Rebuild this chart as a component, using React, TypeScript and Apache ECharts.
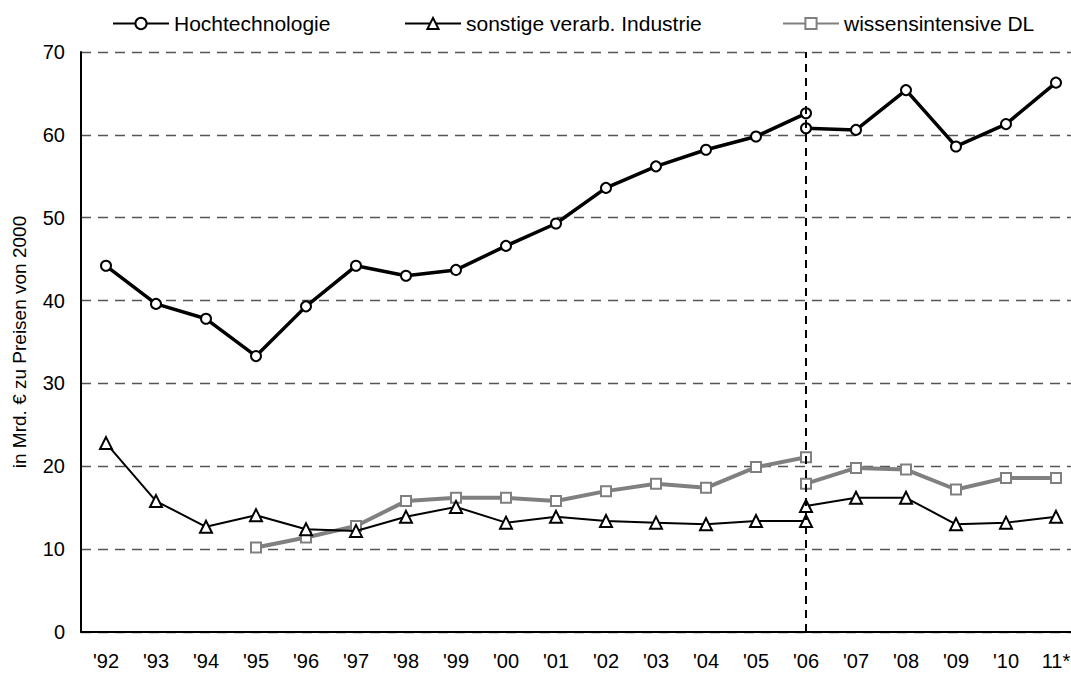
import React, { useEffect, useRef } from "react";
import * as echarts from "echarts";

const categories = ["'92", "'93", "'94", "'95", "'96", "'97", "'98", "'99", "'00", "'01", "'02", "'03", "'04", "'05", "'06", "'07", "'08", "'09", "'10", "11*"];

// values before the 2006 break ('92 .. '06)
const hochPre = [44.2, 39.6, 37.8, 33.3, 39.3, 44.2, 43.0, 43.7, 46.6, 49.3, 53.6, 56.2, 58.2, 59.8, 62.6];
const sonstPre = [22.8, 15.8, 12.7, 14.1, 12.4, 12.2, 13.9, 15.1, 13.2, 13.9, 13.4, 13.2, 13.0, 13.4, 13.4];
const wissPre = [null, null, null, 10.2, 11.4, 12.8, 15.8, 16.2, 16.2, 15.8, 17.0, 17.9, 17.4, 19.9, 21.1];

// values after the break ('06 .. '11*)
const hochPost = [60.8, 60.6, 65.4, 58.6, 61.3, 66.3];
const sonstPost = [15.2, 16.2, 16.2, 13.0, 13.2, 13.9];
const wissPost = [17.9, 19.8, 19.6, 17.2, 18.6, 18.6];

const yTicks = { min: 0, max: 70, interval: 10 };

const FONT = "'Liberation Sans', Arial, sans-serif";

function padPre(v: (number | null)[]) {
  const out: (number | null)[] = v.slice();
  while (out.length < categories.length) out.push(null);
  return out;
}
function padPost(v: number[]) {
  const out: (number | null)[] = [];
  for (let i = 0; i < categories.length - v.length; i++) out.push(null);
  return out.concat(v);
}

export default function App() {
  const ref = useRef<HTMLDivElement>(null);
  useEffect(() => {
    if (!ref.current) return;
    const chart = echarts.init(ref.current, undefined, { renderer: "svg" });

    const hochStyle = {
      name: "Hochtechnologie",
      type: "line",
      symbol: "circle",
      symbolSize: 10,
      lineStyle: { color: "#000", width: 3.5 },
      itemStyle: { color: "#fff", borderColor: "#000", borderWidth: 2 },
      z: 4,
    };
    const sonstStyle = {
      name: "sonstige verarb. Industrie",
      type: "line",
      symbol: "triangle",
      symbolSize: 12,
      lineStyle: { color: "#000", width: 2 },
      itemStyle: { color: "#fff", borderColor: "#000", borderWidth: 2 },
      z: 3,
    };
    const wissStyle = {
      name: "wissensintensive DL",
      type: "line",
      symbol: "rect",
      symbolSize: 10,
      lineStyle: { color: "#808080", width: 4 },
      itemStyle: { color: "#fff", borderColor: "#808080", borderWidth: 2 },
      z: 2,
    };

    const legendBase = {
      top: 13,
      padding: 0,
      itemWidth: 56,
      itemHeight: 14,
      textStyle: { fontFamily: FONT, fontSize: 21, color: "#000" },
      selectedMode: false,
    };

    chart.setOption({
      animation: false,
      backgroundColor: "#fff",
      textStyle: { fontFamily: FONT },
      legend: [
        { ...legendBase, left: 112, data: ["Hochtechnologie"] },
        { ...legendBase, left: 404, data: ["sonstige verarb. Industrie"] },
        { ...legendBase, left: 782, data: ["wissensintensive DL"] },
      ],
      grid: { left: 81, top: 52, width: 1000, bottom: 41, outerBoundsMode: "none", containLabel: false },
      xAxis: {
        type: "category",
        data: categories,
        boundaryGap: true,
        axisLine: { show: true, lineStyle: { color: "#000", width: 2 } },
        axisTick: { show: false },
        axisLabel: { color: "#000", fontSize: 20, fontFamily: FONT, margin: 19, interval: 0 },
        splitLine: { show: false },
      },
      yAxis: {
        type: "value",
        min: yTicks.min,
        max: yTicks.max,
        interval: yTicks.interval,
        name: "in Mrd. € zu Preisen von 2000",
        nameLocation: "middle",
        nameGap: 52,
        nameTextStyle: { color: "#000", fontSize: 19, fontFamily: FONT },
        axisLine: { show: true, lineStyle: { color: "#000", width: 2 } },
        axisTick: { show: false },
        axisLabel: { color: "#000", fontSize: 20, fontFamily: FONT, margin: 16 },
        splitLine: { show: true, lineStyle: { color: "#555", width: 1.3, type: [10, 7] } },
      },
      series: [
        { ...hochStyle, data: padPre(hochPre),
          markLine: {
            silent: true,
            symbol: "none",
            label: { show: false },
            lineStyle: { color: "#000", width: 2, type: [8, 6] },
            data: [{ xAxis: "'06" }],
          },
        },
        { ...hochStyle, data: padPost(hochPost) },
        { ...sonstStyle, data: padPre(sonstPre) },
        { ...sonstStyle, data: padPost(sonstPost) },
        { ...wissStyle, data: padPre(wissPre) },
        { ...wissStyle, data: padPost(wissPost) },
      ],
    });
    return () => chart.dispose();
  }, []);
  return <div ref={ref} style={{ width: 1071, height: 673, position: "absolute", left: 0, top: 0 }} />;
}
